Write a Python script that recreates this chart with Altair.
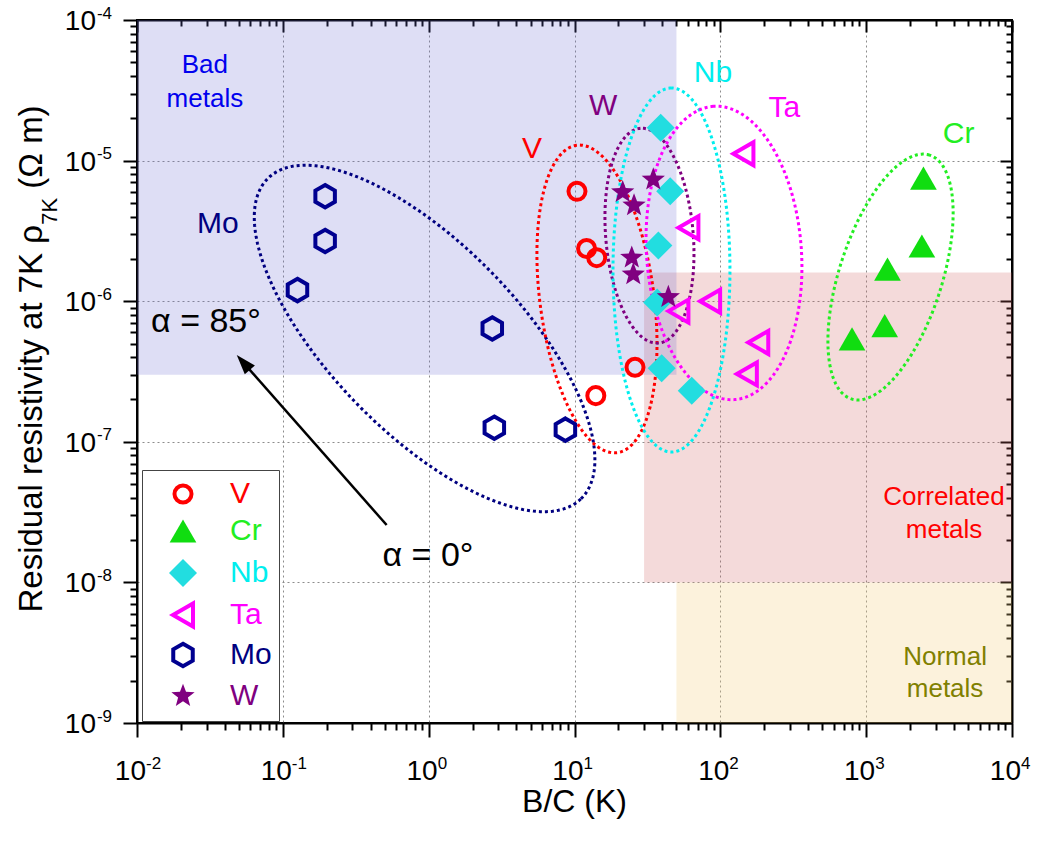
import numpy as np
import pandas as pd
import altair as alt

FONT = "Liberation Sans"
PLOT_W, PLOT_H = 875, 703
X_DOMAIN = [1e-2, 1e4]
Y_DOMAIN = [1e-9, 1e-4]

# ---------------- measured points: B/C (K) vs residual resistivity at 7 K (Ohm m)
metal_order = ["V", "Cr", "Nb", "Ta", "Mo", "W"]

v_bc = [10.4, 12.1, 14.2, 26.0, 14.0]
v_rho = [6.05e-6, 2.37e-6, 2.04e-6, 3.39e-7, 2.13e-7]

cr_bc = [2470, 2410, 1400, 1340, 800]
cr_rho = [7.5e-6, 2.47e-6, 1.69e-6, 6.7e-7, 5.4e-7]

nb_bc = [39.0, 45.3, 37.6, 36.9, 39.6, 63.7]
nb_rho = [1.71e-5, 6.05e-6, 2.49e-6, 9.8e-7, 3.33e-7, 2.31e-7]

ta_bc = [144, 60.4, 51.6, 85.1, 182, 152]
ta_rho = [1.12e-5, 3.33e-6, 8.5e-7, 1.0e-6, 5.09e-7, 3.04e-7]

mo_bc = [0.195, 0.195, 0.126, 2.73, 2.82, 8.66]
mo_rho = [5.58e-6, 2.68e-6, 1.20e-6, 6.4e-7, 1.26e-7, 1.22e-7]

w_bc = [21.4, 25.6, 34.7, 24.7, 25.3, 44.0]
w_rho = [5.96e-6, 4.80e-6, 7.33e-6, 2.04e-6, 1.55e-6, 1.07e-6]

series = {"V": (v_bc, v_rho), "Cr": (cr_bc, cr_rho), "Nb": (nb_bc, nb_rho),
          "Ta": (ta_bc, ta_rho), "Mo": (mo_bc, mo_rho), "W": (w_bc, w_rho)}

# ---------------- shaded regimes
zone_x1 = [30, 50, 0.01]
zone_x2 = [1e4, 1e4, 50]
zone_y1 = [1e-8, 1e-9, 3e-7]
zone_y2 = [1.6e-6, 1e-8, 1e-4]
zone_fill = ["#d06464", "#f5d080", "#6b6bd0"]
zone_alpha = [0.24, 0.28, 0.22]

# ---------------- dotted rings (ellipses in log-log space)
ring_names = ["Mo", "V", "W", "Nb", "Ta", "Cr"]
ring_lx = [-0.028, 1.154, 1.514, 1.665, 2.025, 3.167]     # log10 centre, B/C
ring_ly = [-6.265, -5.984, -5.534, -5.778, -5.657, -5.828]  # log10 centre, rho
ring_a = [1.536, 1.063, 0.739, 1.248, 1.008, 0.878]         # semi-axes (decades)
ring_b = [0.645, 0.391, 0.300, 0.401, 0.531, 0.352]
ring_angle = [-45.7, 97.5, 94.8, 90.0, 94.1, 72.2]          # degrees
ring_colors = ["#000080", "#ff0000", "#800080", "#00eeee", "#ff00ff", "#22ee22"]

# ---------------- annotations
label_text = ["Mo", "V", "W", "Nb", "Ta", "Cr"]
label_bc = [0.0359, 5.11, 15.7, 89.1, 275, 4300]
label_rho = [3.05e-6, 1.045e-5, 2.11e-5, 3.62e-5, 2.04e-5, 1.33e-5]
label_color = ["#000080", "#ff0000", "#800080", "#00eeee", "#ff00ff", "#22ee22"]

zone_text = ["Bad", "metals", "Correlated", "metals", "Normal", "metals"]
zone_text_bc = [0.0292, 0.0292, 3420, 3420, 3475, 3475]
zone_text_rho = [4.20e-5, 2.40e-5, 3.56e-8, 2.07e-8, 2.59e-9, 1.53e-9]
zone_text_color = ["#0000ee", "#0000ee", "#ff0000", "#ff0000", "#808000", "#808000"]

alpha_text = ["α = 85°", "α = 0°"]
alpha_bc = [0.0297, 0.989]
alpha_rho = [6.04e-7, 1.31e-8]

arrow_tail = (0.515, 2.56e-8)
arrow_tip = (0.0483, 4.14e-7)

# ---------------- tick labels
x_label_vals = [1e-2, 1e-1, 1e0, 1e1, 1e2, 1e3, 1e4]
x_label_exp = ["-2", "-1", "0", "1", "2", "3", "4"]
y_label_vals = [1e-9, 1e-8, 1e-7, 1e-6, 1e-5, 1e-4]
y_label_exp = ["-9", "-8", "-7", "-6", "-5", "-4"]

x_ticks = [m * 10.0 ** e for e in range(-2, 4) for m in range(1, 10)] + [1e4]
y_ticks = [m * 10.0 ** e for e in range(-9, -4) for m in range(1, 10)] + [1e-4]

# ---------------- marker shapes
# Every symbol is drawn at one common size; the relative marker sizes live in the
# path coordinates (Vega scales a custom path by sqrt(size)/2).
MARK_SIZE = 900


def poly(pts):
    return "M" + "L".join(f"{x:.3f},{y:.3f}" for x, y in pts) + "Z"


def circle(r):
    return (f"M{-r:.3f},0A{r:.3f},{r:.3f},0,1,1,{r:.3f},0"
            f"A{r:.3f},{r:.3f},0,1,1,{-r:.3f},0Z")


def star(outer, inner):
    pts = []
    for k in range(10):
        r = outer if k % 2 == 0 else inner
        a = np.radians(-90 + 36 * k)
        pts.append((r * np.cos(a), r * np.sin(a)))
    return poly(pts)


SHAPE_V = circle(0.567)
SHAPE_CR = poly([(0, -0.77), (0.89, 0.77), (-0.89, 0.77)])
SHAPE_NB = poly([(0, -0.933), (0.933, 0), (0, 0.933), (-0.933, 0)])
SHAPE_TA = poly([(-0.667, 0), (0.667, -0.767), (0.667, 0.767)])
SHAPE_MO = poly([(0, -0.75), (0.65, -0.375), (0.65, 0.375), (0, 0.75), (-0.65, 0.375),
                 (-0.65, -0.375)])
SHAPE_W = star(0.817, 0.343)
ARROW_HEAD = "M0,0L-0.75,2.2L0.75,2.2Z"

shape_range = [SHAPE_V, SHAPE_CR, SHAPE_NB, SHAPE_TA, SHAPE_MO, SHAPE_W]
stroke_range = ["#ff0000", "transparent", "transparent", "#ff00ff", "#000090", "transparent"]
fill_range = ["transparent", "#10dd10", "#22dde0", "transparent", "transparent", "#800080"]

label_color_expr = " : ".join(
    f"datum.value === '{m}' ? '{c}'" for m, c in
    zip(metal_order, ["#ff0000", "#22ee22", "#00eeee", "#ff00ff", "#000080", "#800080"])
) + " : 'black'"

# ---------------- scales and axes
xs = alt.Scale(type="log", domain=X_DOMAIN, nice=False)
ys = alt.Scale(type="log", domain=Y_DOMAIN, nice=False)
MAJOR = "abs(log(datum.value)/LN10 - round(log(datum.value)/LN10)) < 0.001"


def axis(orient, values, major, minor, grid):
    kw = dict(orient=orient, values=values, labels=False, title=None,
              tickSize={"condition": {"test": MAJOR, "value": major}, "value": minor},
              tickColor="black", tickWidth=2, domainColor="black", domainWidth=2,
              grid=grid)
    if grid:
        kw.update(gridColor="#8c8c8c", gridDash=[2, 3], gridWidth=1,
                  gridOpacity={"condition": {"test": MAJOR, "value": 1}, "value": 0})
    return alt.Axis(**kw)


zones = pd.DataFrame({"x1": zone_x1, "x2": zone_x2, "y1": zone_y1, "y2": zone_y2,
                      "c": zone_fill, "o": zone_alpha})

background = alt.Chart(zones).mark_rect().encode(
    x=alt.X("x1:Q", scale=xs, axis=axis("bottom", x_ticks, 14, 7, True)),
    x2="x2:Q",
    y=alt.Y("y1:Q", scale=ys, axis=axis("left", y_ticks, 14, 7, True)),
    y2="y2:Q",
    color=alt.Color("c:N", scale=None),
    opacity=alt.Opacity("o:Q", scale=None),
)

mirror = alt.Chart(zones).mark_rect(opacity=0).encode(
    x=alt.X("x1:Q", scale=xs, axis=axis("top", x_ticks, -12, -6, False)),
    x2="x2:Q",
    y=alt.Y("y1:Q", scale=ys, axis=axis("right", y_ticks, -12, -6, False)),
    y2="y2:Q",
)

# rings
t = np.linspace(0, 2 * np.pi, 241)
aspect = (PLOT_W / 6) / (PLOT_H / 5)
rings = []
for name, cx, cy, a, b, ang, col in zip(ring_names, ring_lx, ring_ly, ring_a, ring_b,
                                        ring_angle, ring_colors):
    th = np.radians(ang)
    u, v = a * np.cos(t), b * np.sin(t)
    dx = u * np.cos(th) - v * np.sin(th)
    dy = (u * np.sin(th) + v * np.cos(th)) * aspect
    df = pd.DataFrame({"bc": 10 ** (cx + dx), "rho": 10 ** (cy + dy), "i": np.arange(len(t))})
    rings.append(
        alt.Chart(df).mark_line(color=col, strokeWidth=3, strokeDash=[3, 3], strokeCap="butt")
        .encode(x=alt.X("bc:Q", scale=xs, axis=None),
                y=alt.Y("rho:Q", scale=ys, axis=None),
                order="i:Q")
    )

# arrow: shaft stops under the head, head sits on the tip
lt = np.log10(arrow_tip)
ll = np.log10(arrow_tail)
px_dx = (ll[0] - lt[0]) * PLOT_W / 6
px_dy = -(ll[1] - lt[1]) * PLOT_H / 5
dist = np.hypot(px_dx, px_dy)
frac = 12 / dist
shaft_end = 10 ** (lt + frac * (ll - lt))
head_angle = (np.degrees(np.arctan2(-px_dx, px_dy)) + 360) % 360

shaft = alt.Chart(pd.DataFrame({"bc": [arrow_tail[0], shaft_end[0]],
                                "rho": [arrow_tail[1], shaft_end[1]], "i": [0, 1]})).mark_line(
    color="black", strokeWidth=2.5).encode(
    x=alt.X("bc:Q", scale=xs, axis=None), y=alt.Y("rho:Q", scale=ys, axis=None), order="i:Q")

head = alt.Chart(pd.DataFrame({"bc": [arrow_tip[0]], "rho": [arrow_tip[1]]})).mark_point(
    shape=ARROW_HEAD, size=324, filled=True, color="black", opacity=1, strokeWidth=0,
    angle=float(head_angle)).encode(
    x=alt.X("bc:Q", scale=xs, axis=None), y=alt.Y("rho:Q", scale=ys, axis=None))

# data points
rows = []
for m in metal_order:
    bc, rho = series[m]
    for xv, yv in zip(bc, rho):
        rows.append({"metal": m, "bc": xv, "rho": yv})
points_df = pd.DataFrame(rows)

legend = alt.Legend(
    title=None, orient="none", legendX=5, legendY=450, direction="vertical",
    fillColor="white", strokeColor="#444444", padding=7, rowPadding=0,
    symbolOffset=17, labelOffset=30, labelFont=FONT, labelFontSize=30,
    labelColor={"expr": label_color_expr}, labelBaseline="middle", labelLimit=300,
    symbolOpacity=1, symbolSize=MARK_SIZE, symbolStrokeWidth=4,
)
dom = dict(domain=metal_order)
points = alt.Chart(points_df).mark_point(opacity=1, size=MARK_SIZE, strokeWidth=4).encode(
    x=alt.X("bc:Q", scale=xs, axis=None),
    y=alt.Y("rho:Q", scale=ys, axis=None),
    shape=alt.Shape("metal:N", scale=alt.Scale(range=shape_range, **dom), legend=legend),
    fill=alt.Fill("metal:N", scale=alt.Scale(range=fill_range, **dom)),
    stroke=alt.Stroke("metal:N", scale=alt.Scale(range=stroke_range, **dom)),
)

# text annotations
def note_layer(texts, xs_, ys_, colors, size):
    df = pd.DataFrame({"t": texts, "bc": xs_, "rho": ys_, "c": colors})
    return alt.Chart(df).mark_text(font=FONT, fontSize=size, align="center",
                                   baseline="alphabetic").encode(
        x=alt.X("bc:Q", scale=xs, axis=None), y=alt.Y("rho:Q", scale=ys, axis=None),
        text="t:N", color=alt.Color("c:N", scale=None))

metal_notes = note_layer(label_text, label_bc, label_rho, label_color, 30)
zone_notes = note_layer(zone_text, zone_text_bc, zone_text_rho, zone_text_color, 26)
alpha_notes = note_layer(alpha_text, alpha_bc, alpha_rho, ["black", "black"], 34)

# tick labels as 10 with raised exponent
xlab = pd.DataFrame({"v": x_label_vals, "exp": x_label_exp, "base": "10"})
x_base = alt.Chart(xlab).mark_text(font=FONT, fontSize=28, align="right", dx=9,
                                   baseline="alphabetic").encode(
    x=alt.X("v:Q", scale=xs, axis=None), y=alt.value(PLOT_H + 57), text="base:N")
x_pow = alt.Chart(xlab).mark_text(font=FONT, fontSize=17, align="left", dx=9,
                                  baseline="alphabetic").encode(
    x=alt.X("v:Q", scale=xs, axis=None), y=alt.value(PLOT_H + 45.5), text="exp:N")

ylab = pd.DataFrame({"v": y_label_vals, "exp": y_label_exp, "base": "10"})
y_base = alt.Chart(ylab).mark_text(font=FONT, fontSize=28, align="right", dy=10,
                                   baseline="alphabetic").encode(
    y=alt.Y("v:Q", scale=ys, axis=None), x=alt.value(-41), text="base:N")
y_pow = alt.Chart(ylab).mark_text(font=FONT, fontSize=17, align="right", dy=-1.5,
                                  baseline="alphabetic").encode(
    y=alt.Y("v:Q", scale=ys, axis=None), x=alt.value(-25), text="exp:N")

# axis titles
one = pd.DataFrame({"k": [0]})
x_title = alt.Chart(one).mark_text(text="B/C (K)", font=FONT, fontSize=32, align="center",
                                   baseline="alphabetic").encode(
    x=alt.value(PLOT_W / 2), y=alt.value(792))
y_title_main = alt.Chart(one).mark_text(text="Residual resistivity at 7K ρ", font=FONT,
                                        fontSize=33, align="left", baseline="alphabetic",
                                        angle=270).encode(
    x=alt.value(-95.5), y=alt.value(592.5))
y_title_sub = alt.Chart(one).mark_text(text="7K", font=FONT, fontSize=22, align="left",
                                       baseline="alphabetic", angle=270).encode(
    x=alt.value(-80), y=alt.value(204.8))
y_title_unit = alt.Chart(one).mark_text(text="(Ω m)", font=FONT, fontSize=33, align="left",
                                        baseline="alphabetic", angle=270).encode(
    x=alt.value(-95.5), y=alt.value(168.7))

chart = alt.layer(
    background, *rings, shaft, head, points, metal_notes, zone_notes, alpha_notes,
    x_base, x_pow, y_base, y_pow, x_title, y_title_main, y_title_sub, y_title_unit, mirror,
).resolve_axis(x="independent", y="independent").properties(
    width=PLOT_W, height=PLOT_H,
    autosize=alt.AutoSizeParams(type="none"),
    padding={"left": 137, "top": 20, "right": 26, "bottom": 120},
    background="white",
).configure_view(stroke="black", strokeWidth=2)

chart.save("out.html", embed_options={"renderer": "svg", "actions": False})
